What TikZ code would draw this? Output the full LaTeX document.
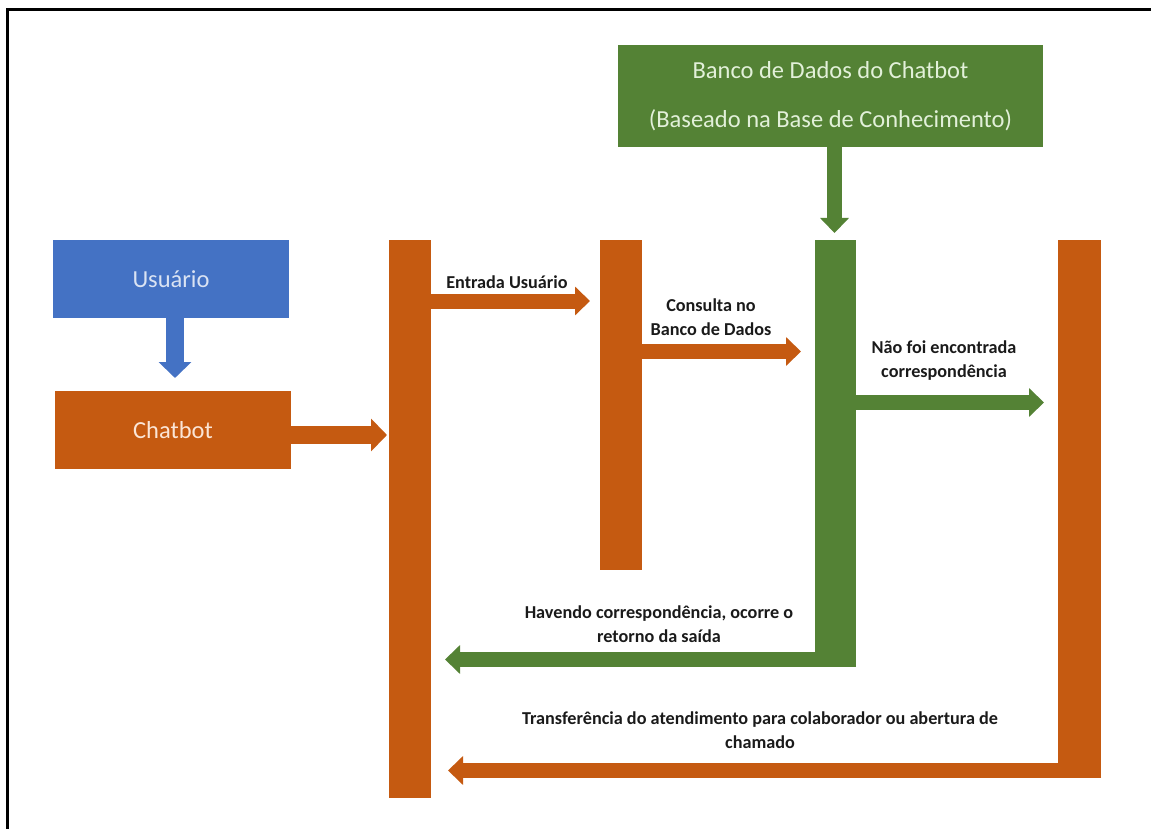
\documentclass[tikz,border=0pt]{standalone}
\usepackage{fontspec}
\setmainfont{Carlito}
\usetikzlibrary{arrows.meta}
\definecolor{cblue}{HTML}{4472C4}
\definecolor{corange}{HTML}{C55A11}
\definecolor{cgreen}{HTML}{548235}
\definecolor{tblue}{HTML}{DAE3F3}
\definecolor{torange}{HTML}{FBE5D6}
\definecolor{tgreen}{HTML}{E2F0D9}
\definecolor{label}{HTML}{1A1A1A}
\tikzset{
  box/.style={rectangle, inner sep=0pt, outer sep=0pt, font=\fontsize{24.5}{49}\selectfont, align=center},
  bar/.style={rectangle, inner sep=0pt, outer sep=0pt, minimum width=42pt},
  flow/.style={line width=15pt, -{Triangle[width=28pt,length=15pt]}},
  bigflow/.style={line width=18pt, -{Triangle[width=32pt,length=16pt]}},
  lbl/.style={font=\fontsize{18.2}{24}\selectfont\bfseries, text=label, align=center, inner sep=0pt}
}
\begin{document}
\begin{tikzpicture}[x=1pt,y=-1pt]
\useasboundingbox (0,0) rectangle (1151,829);
% frame
\draw[line width=2.5pt] (1151,9.5) -- (7.5,9.5) -- (7.5,829);

% boxes
\node[box, fill=cblue, text=tblue, minimum width=236pt, minimum height=78pt] (usr) at (171,279) {Usuário};
\node[box, fill=corange, text=torange, minimum width=236pt, minimum height=78pt] (chat) at (173,430) {Chatbot};
\node[box, fill=cgreen, text=tgreen, minimum width=425pt, minimum height=102pt] (bank) at (830.5,96)
  {Banco de Dados do Chatbot\\(Baseado na Base de Conhecimento)};

% vertical bars
\node[bar, fill=corange, minimum height=558pt] (bar1) at (410,519) {};
\node[bar, fill=corange, minimum height=330pt] (bar2) at (621,405) {};
\node[bar, fill=cgreen, minimum width=41pt, minimum height=427pt] (gbar) at (835.5,453.5) {};
\node[bar, fill=corange, minimum width=43pt, minimum height=538pt] (obar) at (1079.5,509) {};

% connectors
\draw[bigflow, cblue, shorten >=13pt] (usr.south -| 175,0) -- (chat.north -| 175,0);
\draw[bigflow, corange, shorten >=2pt] (chat.east |- 0,435) -- (bar1.west |- 0,435);
\draw[flow, corange, shorten >=10pt] (bar1.east |- 0,301) -- (bar2.west |- 0,301);
\draw[flow, corange, shorten >=14pt] (bar2.east |- 0,351.5) -- (gbar.west |- 0,351.5);
\draw[flow, cgreen, shorten >=7pt] (bank.south -| 834.5,0) -- (gbar.north -| 834.5,0);
\draw[flow, cgreen, shorten >=14pt] (gbar.east |- 0,402.5) -- (obar.west |- 0,402.5);
\draw[flow, cgreen, shorten >=14pt] (gbar.east |- 0,659.5) -- (bar1.east |- 0,659.5);
\draw[flow, corange, shorten >=17pt] (obar.east |- 0,770.5) -- (bar1.east |- 0,770.5);

% labels
\node[lbl] (l1) at (507,282) {Entrada Usuário};
\node[lbl] (l2) at (711,317) {Consulta no\\Banco de Dados};
\node[lbl] (l3) at (944,361) {Não foi encontrada\\correspondência};
\node[lbl] (l4) at (659,624) {Havendo correspondência, ocorre o\\retorno da saída};
\node[lbl] (l5) at (760,730) {Transferência do atendimento para colaborador ou abertura de\\chamado};
\end{tikzpicture}
\end{document}
